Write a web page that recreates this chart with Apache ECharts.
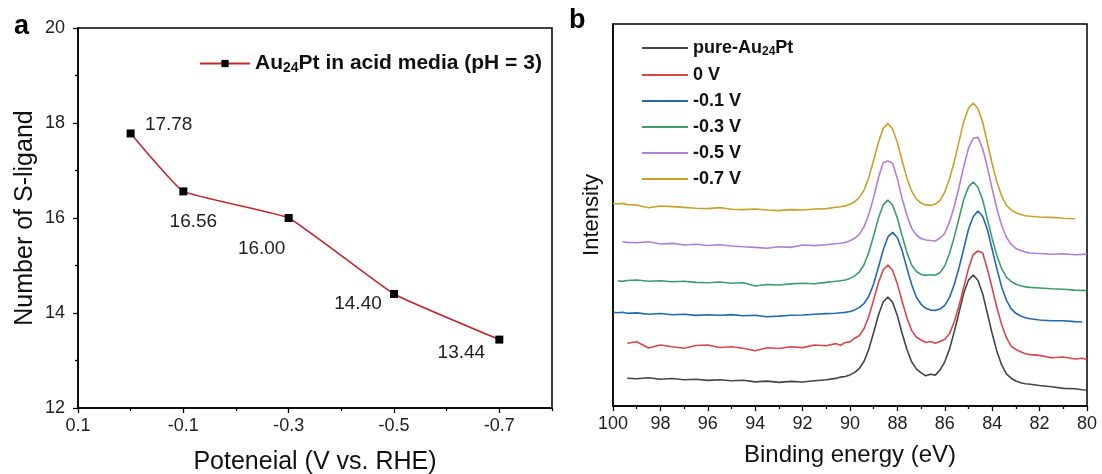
<!DOCTYPE html>
<html><head><meta charset="utf-8">
<script src="https://cdn.jsdelivr.net/npm/echarts@6/dist/echarts.min.js"></script>
<style>html,body{margin:0;padding:0;background:#fff}#c{width:1102px;height:474px}</style>
</head><body><div id="c"></div>
<script>
// ---------- Panel a data ----------
const potential = [0, -0.1, -0.3, -0.5, -0.7];
const ligandCount = [17.78, 16.56, 16.00, 14.40, 13.44];
const potentialTicks = [0.1, -0.1, -0.3, -0.5, -0.7];
const potentialMinorTicks = [0, -0.2, -0.4, -0.6, -0.8];
const ligandTicks = [12, 14, 16, 18, 20];

// ---------- Panel b data ----------
const energy = [100, 99.8, 99.6, 99.4, 99, 98.5, 98, 97.5, 97, 96.5, 96, 95.5, 95, 94.5, 94, 93.5, 93, 92.5, 92, 91.5, 91,
  90.6, 90.4, 90.2, 90.0, 89.8, 89.6, 89.4, 89.2, 89.0, 88.8, 88.6, 88.4, 88.2, 88.0, 87.8, 87.6, 87.4, 87.2, 87.0, 86.8, 86.6,
  86.4, 86.2, 86.0, 85.8, 85.6, 85.4, 85.2, 85.0, 84.8, 84.6, 84.4, 84.2, 84.0, 83.8, 83.6, 83.4, 83.2, 83.0, 82.8, 82.6, 82.4,
  82, 81.5, 81, 80.5, 80.2, 80];
const curvePure = [null, null, null, 27.7, 27.2, 28.2, 26.8, 27.5, 26.2, 26.8, 25.6, 26.3, 25.2, 25.8, 24.1, 24.9, 23.6, 24.6, 24.0, 25.3, 26.2,
  27.6, 28.9, 29.5, 31.1, 33.6, 37.7, 45, 57.3, 73.7, 91, 104, 109, 103.6, 90.2, 72.5, 56.8, 44.2, 37.1, 33.1, 30.2, 31.8,
  30.9, 36.1, 44.2, 57.1, 74.2, 93.4, 112.9, 125.9, 131, 125.5, 112.1, 92.2, 72.2, 54.4, 41.1, 32.2, 27.8, 25, 23.3, 22.2, 21.7,
  20.5, 19.2, 17.6, 17.2, 16.3, 16.0];
const curve0V = [null, null, null, 62.7, 64.3, 58.0, 61.0, 59.3, 57.7, 60.5, 61.0, 58.5, 59.3, 57.8, 55.3, 58.2, 57.5, 59.3, 58.4, 61.0, 60.2,
  62.4, 60.8, 63.5, 64.1, 67.8, 70.5, 77.8, 90, 106.2, 123.2, 136.1, 141, 135.4, 121.9, 104.7, 88.2, 75.6, 69, 66, 63.5, 64.5,
  62.8, 64.6, 66.8, 72.4, 84.3, 100.3, 118.9, 137.5, 151.5, 155, 153, 136.8, 117.6, 98.3, 81.2, 68.3, 59.8, 56.5, 54.2, 52.3, 51.4,
  50.6, 48.2, 49.0, 47.0, 47.8, 46.5];
const curveM01 = [93.7, 93.2, 93.8, 92.7, 93.1, 91.8, 92.5, 91.2, 91.8, 90.6, 91.3, 90.8, 91.4, 90.2, 90.7, 89.3, 89.9, 90.8, 91.0, 91.8, 92.4,
  92.8, 93.2, 93.6, 94.5, 96.1, 98.6, 102.7, 110, 122.3, 138.7, 156, 169.1, 173.6, 168.3, 155.4, 138, 121.5, 108.8, 101.7, 97.7, 95.9,
  95.6, 97, 100.6, 108.6, 121.5, 138.3, 157.3, 176.7, 189.5, 195, 189.5, 176.3, 156.5, 136.7, 119.1, 105.9, 97.1, 92.7, 90, 88.3, 87.2,
  86.0, 85.3, 85.2, 84.4, 84.0, null];
const curveM03 = [null, 125.3, 124.6, 125.5, 126.0, 124.8, 125.3, 124.3, 124.8, 123.6, 123.3, 124.0, 122.7, 123.2, 120.0, 121.5, 121.0, 122.1, 122.7, 122.2, 123.6,
  124.7, 125.2, 126, 127.6, 130.1, 134.2, 141.7, 154, 170.5, 187.9, 201.1, 206, 200.7, 187.7, 170.3, 153.7, 141, 134.5, 131.5, 130.6, 131.2,
  130.8, 133.5, 140.3, 152.8, 169.1, 187.7, 206.5, 219.1, 224, 218.7, 205.8, 186.6, 167.3, 150.2, 137.3, 128.8, 124.5, 121.8, 120.2, 119.1, 118.6,
  118.0, 117.2, 116.8, 115.9, 115.6, 115.2];
const curveM05 = [null, null, 164.3, 163.6, 163.3, 164.2, 162.0, 162.6, 161.0, 161.8, 160.5, 161.2, 160.0, 159.2, 158.6, 157.7, 159.3, 158.6, 161.0, 160.4, 161.2,
  162.3, 162.7, 163.5, 165.2, 167.7, 171.9, 179.5, 192.1, 208.9, 228.2, 243.3, 245, 242.7, 227.1, 207.2, 190.8, 177.9, 171, 167.5, 166, 165.5,
  165, 168, 172.8, 184.1, 199.6, 218.8, 239.4, 257.8, 267.8, 268.6, 257.2, 238.3, 217.1, 197, 180.5, 168.7, 161.6, 157.5, 155.4, 154, 153,
  152.5, 151.8, 152.3, 151.2, 151.6, 152.0];
const curveM07 = [202.7, 202.0, 202.6, 201.4, 201.0, 198.2, 200.0, 199.4, 198.6, 197.8, 197.4, 198.4, 196.8, 196.4, 197.0, 196.0, 195.4, 196.4, 196.0, 197.0, 197.4,
  198.8, 199.2, 200.1, 201.8, 204.3, 208.6, 216.2, 229, 246, 263.8, 277.4, 282.5, 276.9, 263.3, 245.3, 228.1, 214.8, 207.1, 202.9, 201.1, 200.6,
  202, 205.7, 214, 227.2, 244.5, 264.4, 284.6, 297.8, 303, 297.3, 283.5, 262.8, 242, 223.7, 209.9, 200.7, 196.1, 193.2, 191.5, 190.3, 189.7,
  189.0, 188.6, 187.8, 187.2, null, null];
const curveNames = ['pure-Au24Pt', '0 V', '-0.1 V', '-0.3 V', '-0.5 V', '-0.7 V'];
const curves = [curvePure, curve0V, curveM01, curveM03, curveM05, curveM07];
const energyTicksMin = 80, energyTicksMax = 100;

// ---------- styling ----------
const FONT = 'Arial, "Liberation Sans", Helvetica, sans-serif';
const curveColors = ['#454545', '#d9474a', '#2468b4', '#3c9c6c', '#b27fd6', '#c8a02a'];
const labelOffsets = [[38, -9], [10, 30], [-27, 31], [-36, 10], [-38, 13]];
const axisLineStyle = { color: '#000', width: 1.5 };
const tickLabel = { fontFamily: FONT, fontSize: 18, color: '#222' };

const chart = echarts.init(document.getElementById('c'), null, { renderer: 'canvas' });

const seriesB = curves.map((arr, i) => ({
  name: curveNames[i],
  type: 'line',
  xAxisIndex: 2,
  yAxisIndex: 1,
  symbol: 'none',
  smooth: false,
  lineStyle: { color: curveColors[i], width: 1.6 },
  itemStyle: { color: curveColors[i] },
  data: energy.map((e, k) => [e, arr[k]]).filter(p => p[1] !== null),
  z: 3 + i
}));

function subName(name) {
  if (name.indexOf('Au24Pt') >= 0) {
    const parts = name.split('Au24Pt');
    return '{n|' + parts[0] + 'Au}{s|24}{n|Pt' + parts[1] + '}';
  }
  return '{n|' + name + '}';
}

const option = {
  animation: false,
  backgroundColor: '#fff',
  grid: [
    { left: 78, top: 28, right: 550, bottom: 66, outerBoundsMode: 'none', containLabel: false, show: true, borderColor: '#000', borderWidth: 1.5, backgroundColor: 'transparent' },
    { left: 613, top: 24, right: 15, bottom: 68, outerBoundsMode: 'none', containLabel: false, show: true, borderColor: '#000', borderWidth: 1.5, backgroundColor: 'transparent' }
  ],
  legend: [
    {
      data: ['Au24Pt in acid media (pH = 3)'],
      left: 194, top: 48,
      itemWidth: 50, itemHeight: 9,
      formatter: subName,
      textStyle: {
        rich: {
          n: { fontFamily: FONT, fontSize: 21, fontWeight: 'bold', color: '#111', lineHeight: 24 },
          s: { fontFamily: FONT, fontSize: 14, fontWeight: 'bold', color: '#111', lineHeight: 24, verticalAlign: 'bottom' }
        }
      }
    },
    {
      data: curveNames,
      orient: 'vertical',
      left: 637, top: 34,
      icon: 'rect',
      itemWidth: 46, itemHeight: 2, itemGap: 8,
      formatter: subName,
      textStyle: {
        rich: {
          n: { fontFamily: FONT, fontSize: 18, fontWeight: 'bold', color: '#111', lineHeight: 20 },
          s: { fontFamily: FONT, fontSize: 12, fontWeight: 'bold', color: '#111', lineHeight: 20, verticalAlign: 'bottom' }
        }
      }
    }
  ],
  xAxis: [
    {
      gridIndex: 0, type: 'value', min: -0.8, max: 0.1, inverse: true, position: 'bottom',
      name: 'Poteneial (V vs. RHE)', nameLocation: 'middle', nameGap: 42,
      nameTextStyle: { fontFamily: FONT, fontSize: 25, color: '#111' },
      axisLine: { show: true, onZero: false, lineStyle: axisLineStyle },
      axisTick: { show: true, length: 5, lineStyle: { color: '#000', width: 1.3 }, customValues: potentialTicks },
      axisLabel: Object.assign({ margin: 9, customValues: potentialTicks, formatter: v => Number(v).toFixed(1) }, tickLabel),
      splitLine: { show: false }
    },
    {
      gridIndex: 0, type: 'value', min: -0.8, max: 0.1, inverse: true, position: 'bottom',
      axisLine: { show: false, onZero: false },
      axisTick: { show: true, length: 3, lineStyle: { color: '#000', width: 1.3 }, customValues: potentialMinorTicks },
      axisLabel: { show: false },
      splitLine: { show: false }
    },
    {
      gridIndex: 1, type: 'value', min: energyTicksMin, max: energyTicksMax, interval: 2, inverse: true,
      name: 'Binding energy (eV)', nameLocation: 'middle', nameGap: 37,
      nameTextStyle: { fontFamily: FONT, fontSize: 24, color: '#111' },
      axisLine: { show: true, onZero: false, lineStyle: axisLineStyle },
      axisTick: { show: true, length: 5, lineStyle: { color: '#000', width: 1.3 } },
      minorTick: { show: true, splitNumber: 2, length: 3, lineStyle: { color: '#000', width: 1.3 } },
      axisLabel: Object.assign({ margin: 9 }, tickLabel),
      splitLine: { show: false }
    }
  ],
  yAxis: [
    {
      gridIndex: 0, type: 'value', min: ligandTicks[0], max: ligandTicks[ligandTicks.length - 1], interval: 2,
      name: 'Number of S-ligand', nameLocation: 'middle', nameGap: 40,
      nameTextStyle: { fontFamily: FONT, fontSize: 25, color: '#111' },
      axisLine: { show: true, onZero: false, lineStyle: axisLineStyle },
      axisTick: { show: true, length: 5, lineStyle: { color: '#000', width: 1.3 } },
      minorTick: { show: true, splitNumber: 2, length: 3, lineStyle: { color: '#000', width: 1.3 } },
      axisLabel: Object.assign({ margin: 13 }, tickLabel),
      splitLine: { show: false }
    },
    {
      gridIndex: 1, type: 'value', min: 0, max: 382,
      name: 'Intensity', nameLocation: 'middle', nameGap: 10,
      nameTextStyle: { fontFamily: FONT, fontSize: 22, color: '#111' },
      axisLine: { show: true, onZero: false, lineStyle: axisLineStyle },
      axisTick: { show: false },
      axisLabel: { show: false },
      splitLine: { show: false }
    }
  ],
  graphic: [
    { type: 'text', left: 14, top: 13, style: { text: 'a', font: 'bold 27px ' + FONT, fill: '#000' } },
    { type: 'text', left: 569, top: 7, style: { text: 'b', font: 'bold 27px ' + FONT, fill: '#000' } }
  ],
  series: [
    {
      name: 'Au24Pt in acid media (pH = 3)',
      type: 'line',
      xAxisIndex: 0, yAxisIndex: 0,
      symbol: 'rect', symbolSize: 8,
      smooth: 0.1,
      lineStyle: { color: '#c3282c', width: 1.6 },
      itemStyle: { color: '#000' },
      z: 5,
      data: potential.map((x, i) => ({
        value: [x, ligandCount[i]],
        label: {
          show: true,
          position: [4 + labelOffsets[i][0], 4 + labelOffsets[i][1]],
          align: 'center', verticalAlign: 'middle',
          formatter: p => p.value[1].toFixed(2),
          fontFamily: FONT, fontSize: 19, color: '#222'
        }
      }))
    }
  ].concat(seriesB)
};
chart.setOption(option);
</script>
</body></html>
